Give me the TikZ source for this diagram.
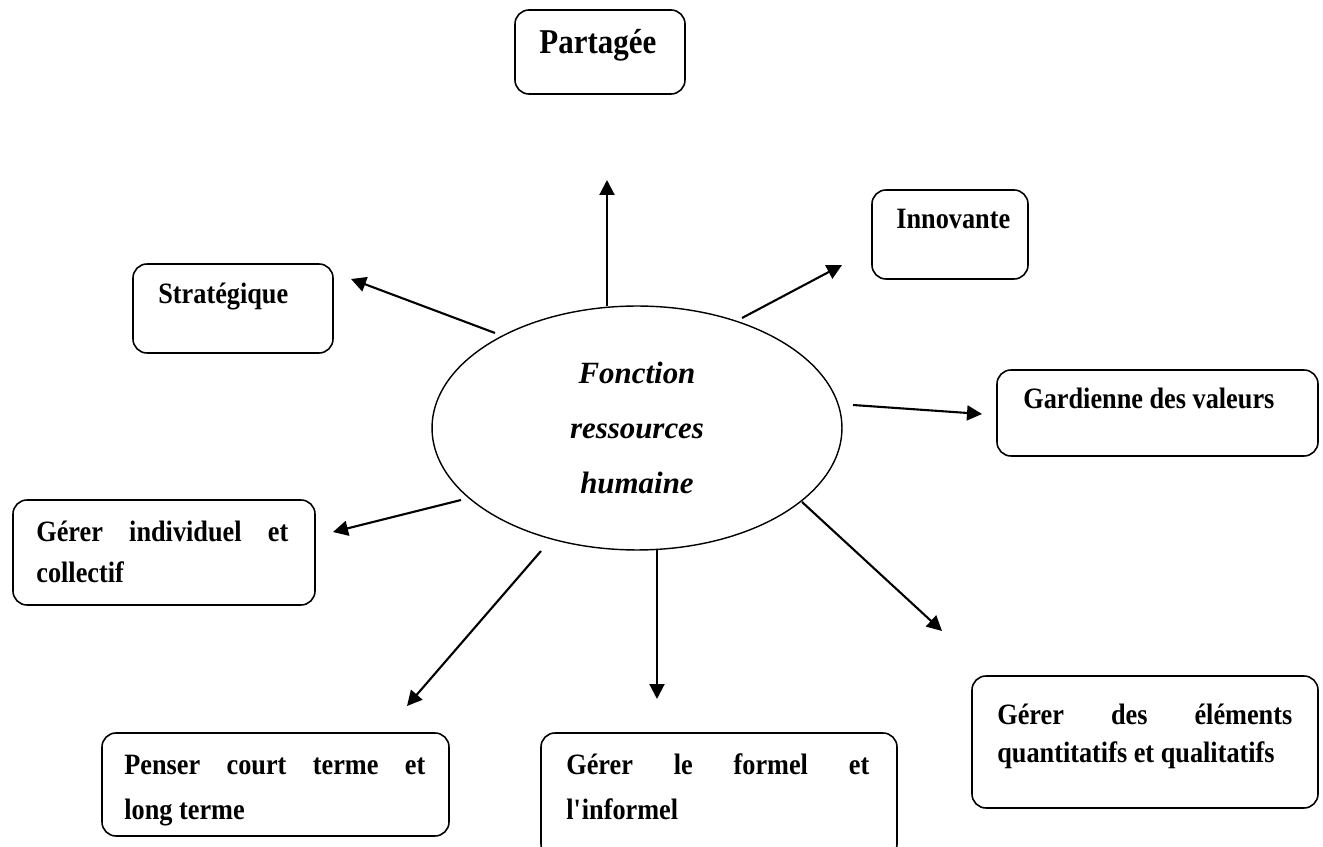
\documentclass[tikz,border=0pt]{standalone}
\usepackage{fontspec}
\setmainfont{Liberation Serif}
\newfontfamily\boxfont[FakeStretch=0.89]{Liberation Serif}
\usetikzlibrary{shapes.geometric,fit,arrows.meta}
\hyphenpenalty=10000
\tolerance=10000

\begin{document}
\begin{tikzpicture}[x=0.02cm,y=-0.02cm]

\useasboundingbox (0,0) rectangle (1323,847);

\tikzstyle{box}=[draw,rounded corners=0.28cm,line width=0.9pt,inner sep=0pt]
\tikzstyle{lbl}=[inner sep=0pt,anchor=base west,font=\boxfont\bfseries\fontsize{16.8}{22.8}\selectfont]
\tikzstyle{arr}=[line width=1.2pt,-{Triangle[length=0.3cm,width=0.3cm]}]

% The central ellipse
\node[draw,ellipse,line width=0.8pt,minimum width=8.2cm,minimum height=4.88cm,inner sep=0pt,align=center,
  font=\bfseries\itshape\fontsize{17.6}{31.3}\selectfont] (frh) at (637,428) {Fonction\\ressources\\humaine};

% Draw the boxes round it
\node[box,fit={(515,10) (685,94)}] (part) {};
\node[box,fit={(872,190) (1028,279)}] (innov) {};
\node[box,fit={(133,264) (333,353)}] (strat) {};
\node[box,fit={(997,370) (1318,456)}] (gard) {};
\node[box,fit={(13,500) (315,605)}] (indiv) {};
\node[box,fit={(972,676) (1318,808)}] (elem) {};
\node[box,fit={(102,733) (449,836)}] (penser) {};
\node[box,fit={(541,733) (897,858)}] (formel) {};

% Texts of the boxes
\node[lbl,font=\boxfont\bfseries\fontsize{19.8}{24}\selectfont] (part-t) at (539,54) {Partagée};
\node[lbl] (innov-t) at (896,229) {Innovante};
\node[lbl] (strat-t) at (158,304) {Stratégique};
\node[lbl] (gard-t) at (1023,409) {Gardienne des valeurs};
\node[lbl,text width=5.04cm,align=justify] (indiv-t) at (36,542) {Gérer individuel et\linebreak collectif};
\node[lbl,text width=5.9cm,align=justify,font=\boxfont\bfseries\fontsize{16.8}{21.6}\selectfont] (elem-t) at (997,725)
  {Gérer des éléments\linebreak quantitatifs et qualitatifs};
\node[lbl,text width=6.02cm,align=justify,font=\boxfont\bfseries\fontsize{16.8}{25.6}\selectfont] (penser-t) at (124,775)
  {Penser court terme et\linebreak long terme};
\node[lbl,text width=6.06cm,align=justify,font=\boxfont\bfseries\fontsize{16.8}{25.6}\selectfont] (formel-t) at (566,775)
  {Gérer le formel et\linebreak l\textquotesingle informel};

% Arrows going out of the ellipse
\foreach \sx/\sy/\tx/\ty [count=\i] in {607/306/607/180, 742/318/842/265, 495/333/351/279, 853/405/982/414,
    461/500/333/532, 541/551/407/706, 657/550/657/699, 802/502/942/631}
{
  \coordinate (s\i) at (\sx,\sy);
  \coordinate (t\i) at (\tx,\ty);
  \draw[arr] (s\i) -- (t\i);
}

\end{tikzpicture}
\end{document}
